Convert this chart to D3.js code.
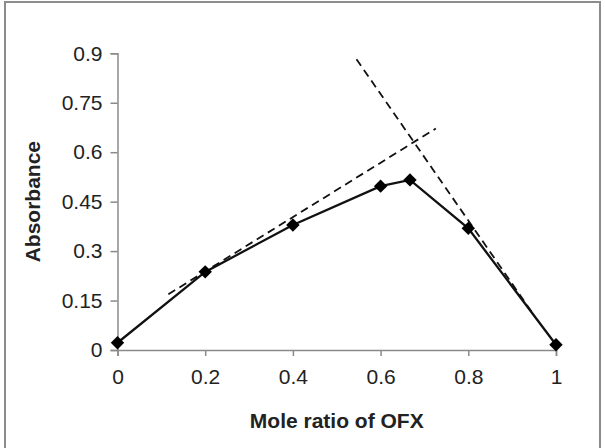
<!DOCTYPE html>
<html>
<head>
<meta charset="utf-8">
<script src="https://cdn.jsdelivr.net/npm/d3@7"></script>
<style>
  body { margin: 0; background: #ffffff; }
  svg { display: block; }
  text { font-family: Arial, "Liberation Sans", sans-serif; fill: #222222; }
</style>
</head>
<body>
<script>

// mole ratio of OFX (x) and absorbance (y)
var moleRatio = [0, 0.2, 0.4, 0.6, 0.667, 0.8, 1];
var absorbance = [0.022, 0.237, 0.379, 0.497, 0.516, 0.369, 0.016];

// the two dashed tangent lines, start and end point
var risingTangent = [[0.116, 0.169], [0.726, 0.672]];
var fallingTangent = [[0.545, 0.882], [0.95, 0.105]];

// tick labels
var xTicks = [0, 0.2, 0.4, 0.6, 0.8, 1];
var yTicks = [0, 0.15, 0.3, 0.45, 0.6, 0.75, 0.9];

var xLabel = "Mole ratio of OFX";
var yLabel = "Absorbance";


window.onload = function() {

  var margin = {
    left: 117.5,
    right: 49,
    top: 53.3,
    bottom: 98
  };
  var parameters = {
    width: 605,
    height: 448
  };

  chartMaker(parameters, margin);
};


function chartMaker(param, margin) {
  /*
  Makes the svg, the frame, the axes and
  plots the data with the tangent lines.
  */

  var svg = d3.select("body")
              .append("svg")
              .attr("width", param.width)
              .attr("height", param.height);

  // grey frame round the whole picture
  svg.append("rect")
     .attr("x", 5)
     .attr("y", 2)
     .attr("width", 595)
     .attr("height", 470)
     .attr("fill", "none")
     .attr("stroke", "#8c8c8c")
     .attr("stroke-width", 2);

  var xScale = d3.scaleLinear()
                 .domain([0, 1])
                 .range([margin.left, param.width - margin.right]);
  var yScale = d3.scaleLinear()
                 .domain([0, 0.9])
                 .range([param.height - margin.bottom, margin.top]);

  axesMaker(svg, xScale, yScale);
  plotter(svg, xScale, yScale);
};


function axesMaker(svg, xScale, yScale) {
  /*
  Draws both axes with their ticks and labels.
  */

  var xAxis = d3.axisBottom(xScale)
                .tickValues(xTicks)
                .tickSize(6)
                .tickPadding(13)
                .tickFormat(function(d) { return String(d); });
  var yAxis = d3.axisLeft(yScale)
                .tickValues(yTicks)
                .tickSize(7)
                .tickPadding(8)
                .tickFormat(function(d) { return String(d); });

  var gx = svg.append("g")
              .attr("transform", "translate(0," + yScale(0) + ")")
              .call(xAxis);
  var gy = svg.append("g")
              .attr("transform", "translate(" + xScale(0) + ",0)")
              .call(yAxis);

  // grey axis lines, like the original
  [gx, gy].forEach(function(g) {
    g.select(".domain")
     .attr("stroke", "#8a8a8a")
     .attr("stroke-width", 1.5);
    g.selectAll(".tick line")
     .attr("stroke", "#8a8a8a")
     .attr("stroke-width", 1.5);
    g.selectAll(".tick text")
     .attr("font-size", 21)
     .attr("font-family", "Arial, 'Liberation Sans', sans-serif")
     .attr("fill", "#262626");
  });

  // x label
  svg.append("text")
     .attr("x", (xScale(0) + xScale(1)) / 2)
     .attr("y", 428)
     .attr("text-anchor", "middle")
     .attr("font-size", 21)
     .attr("font-weight", "bold")
     .text(xLabel);

  // y label
  svg.append("text")
     .attr("transform", "translate(40," + (yScale(0) + yScale(0.9)) / 2 + ") rotate(-90)")
     .attr("text-anchor", "middle")
     .attr("font-size", 21)
     .attr("font-weight", "bold")
     .text(yLabel);
};


function plotter(svg, xScale, yScale) {
  /*
  Plots the dashed tangents, the data line and the markers.
  */

  var line = d3.line()
               .x(function(d) { return xScale(d[0]); })
               .y(function(d) { return yScale(d[1]); });

  [risingTangent, fallingTangent].forEach(function(tangent) {
    svg.append("path")
       .datum(tangent)
       .attr("d", line)
       .attr("fill", "none")
       .attr("stroke", "#111111")
       .attr("stroke-width", 1.8)
       .attr("stroke-dasharray", "8,5");
  });

  var points = moleRatio.map(function(x, i) {
    return [x, absorbance[i]];
  });

  svg.append("path")
     .datum(points)
     .attr("d", line)
     .attr("fill", "none")
     .attr("stroke", "#111111")
     .attr("stroke-width", 2.3);

  // diamond markers
  var diamond = d3.symbol().type(d3.symbolSquare).size(90);
  svg.selectAll(".marker")
     .data(points)
     .enter()
     .append("path")
     .attr("class", "marker")
     .attr("d", diamond)
     .attr("transform", function(d) {
       return "translate(" + xScale(d[0]) + "," + yScale(d[1]) + ") rotate(45)";
     })
     .attr("fill", "#000000");
};

</script>
</body>
</html>
